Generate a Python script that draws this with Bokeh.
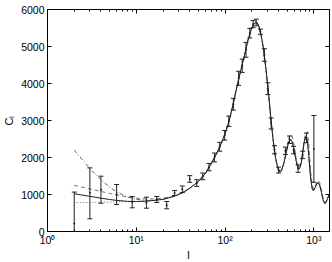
from bokeh.plotting import figure
from bokeh.models import (Range1d, LogAxis, LinearAxis, FixedTicker, LogTicker,
                          CustomJSTickFormatter, ColumnDataSource, Title)
from bokeh.embed import file_html
from bokeh.resources import INLINE

# ---- data ----
curve_l = [2, 3, 4, 5, 6, 8, 10, 13, 16, 20, 25, 30, 35, 40, 50, 60, 70, 80, 90,
           100, 110, 120, 135, 150, 165, 180, 195, 210, 220, 230, 240, 255, 270,
           290, 310, 330, 350, 370, 390, 410, 430, 460, 490, 520, 545, 570, 600,
           630, 660, 690, 720, 750, 780, 810, 840, 870, 900, 930, 960, 990, 1030,
           1080, 1120, 1170, 1220, 1270, 1320, 1370, 1420, 1500]

solid_c = [1020, 950, 900, 865, 840, 815, 810, 820, 840, 870, 930, 1000, 1080,
           1170, 1350, 1570, 1840, 2100, 2370, 2640, 2960, 3320, 3880, 4350, 4750,
           5150, 5430, 5600, 5650, 5640, 5550, 5300, 4950, 4350, 3680, 2980, 2420,
           2000, 1740, 1620, 1640, 1850, 2150, 2420, 2500, 2420, 2200, 1920, 1720,
           1700, 1850, 2150, 2430, 2560, 2480, 2150, 1700, 1350, 1150, 1100, 1180,
           1300, 1320, 1230, 1050, 850, 760, 780, 880, 1000]

dashed_c = [1250, 1150, 1080, 1030, 990, 930, 900, 880, 880, 900, 950, 1010, 1085,
            1170, 1350, 1570, 1840, 2100, 2370, 2640, 2960, 3320, 3880, 4350, 4750,
            5150, 5430, 5600, 5650, 5640, 5550, 5300, 4950, 4350, 3680, 2980, 2420,
            2000, 1720, 1600, 1620, 1850, 2200, 2520, 2640, 2580, 2330, 2000, 1760,
            1720, 1860, 2180, 2500, 2660, 2700, 2450, 1950, 1500, 1250, 1150, 1200,
            1330, 1380, 1310, 1120, 900, 790, 800, 900, 1030]

dashdot_low_l = [2, 3, 4, 5, 6, 8, 10, 13, 16, 20]
dashdot_low_c = [2200, 1700, 1400, 1200, 1070, 930, 870, 840, 845, 870]

dotted_low_l = [2, 3, 4, 5, 6, 8, 10]
dotted_low_c = [780, 785, 790, 795, 800, 805, 810]

obs_l = [2, 3, 4, 6, 9, 13, 17, 22, 27, 33, 40, 48, 56, 66, 76, 87, 99, 110, 124,
         142, 156, 172, 190, 207, 224, 250, 277, 303, 330, 360, 400, 478, 532, 591,
         664, 748, 824, 1000]
obs_c = [215, 1050, 1130, 1000, 800, 780, 865, 710, 1040, 1140, 1420, 1310, 1490,
         1740, 2000, 2290, 2600, 2980, 3440, 4140, 4480, 4910, 5360, 5600, 5650,
         5400, 4770, 3860, 2920, 2210, 1660, 2180, 2480, 2200, 1700, 2070, 2530, 2230]
obs_lo = [-700, 343, 765, 730, 640, 630, 784, 613, 973, 1050, 1330, 1220, 1400,
          1640, 1880, 2170, 2470, 2840, 3280, 3950, 4300, 4710, 5230, 5510, 5560,
          5330, 4600, 3700, 2770, 2100, 1580, 2080, 2380, 2100, 1600, 1970, 2400, 1330]
obs_hi = [1065, 1720, 1495, 1270, 946, 927, 946, 810, 1108, 1230, 1510, 1400, 1580,
          1840, 2120, 2410, 2730, 3120, 3600, 4330, 4660, 5110, 5490, 5700, 5740,
          5470, 4940, 4020, 3070, 2320, 1740, 2280, 2580, 2300, 1800, 2170, 2660, 3135]

y_ticks = [0, 1000, 2000, 3000, 4000, 5000, 6000]
x_label = "l"
y_label = "C\u2097"

# tail of the solid curve used by dash-dot and dotted models
n_dd = len(dashdot_low_l)
dashdot_l = dashdot_low_l + curve_l[n_dd:]
dashdot_c = dashdot_low_c + solid_c[n_dd:]
n_dt = len(dotted_low_l)
dotted_l = dotted_low_l + curve_l[n_dt:]
dotted_c = dotted_low_c + solid_c[n_dt:]

FONT = "Liberation Sans"

p = figure(width=332, height=262, x_axis_type="log",
           x_range=Range1d(1, 1500), y_range=Range1d(0, 6000),
           output_backend="svg", toolbar_location=None,
           min_border_left=47, min_border_right=3, min_border_top=9, min_border_bottom=31)
p.xgrid.visible = False
p.ygrid.visible = False
p.outline_line_color = "black"
p.outline_line_width = 1
p.background_fill_color = "white"
p.border_fill_color = "white"

xt = LogTicker(num_minor_ticks=10)
fmt = CustomJSTickFormatter(code="""
const sup = {0:'\u2070',1:'\u00b9',2:'\u00b2',3:'\u00b3',4:'\u2074'};
const e = Math.round(Math.log10(tick));
return '10' + (sup[e] !== undefined ? sup[e] : e);
""")

for ax in p.xaxis:
    ax.ticker = xt
    ax.formatter = fmt
    ax.major_label_standoff = 2
for ax in p.yaxis:
    ax.ticker = FixedTicker(ticks=y_ticks)
    ax.axis_label = y_label
    ax.axis_label_standoff = 3
    ax.major_label_standoff = 3

for ax in p.xaxis + p.yaxis:
    ax.major_tick_in = 4
    ax.major_tick_out = 0
    ax.minor_tick_in = 2
    ax.minor_tick_out = 0
    ax.major_label_text_font = FONT
    ax.major_label_text_font_size = "10.5px"
    ax.major_label_text_color = "black"
    ax.axis_label_text_font = FONT
    ax.axis_label_text_font_size = "11px"
    ax.axis_label_text_font_style = "normal"
    ax.axis_label_text_color = "black"
    ax.axis_line_color = "black"
    ax.major_tick_line_color = "black"
    ax.minor_tick_line_color = "black" if ax in p.xaxis else None

top = LogAxis(ticker=xt, major_label_text_font_size="1px", major_label_text_alpha=0,
              major_label_standoff=0,
              major_tick_in=4, major_tick_out=0, minor_tick_in=2, minor_tick_out=0,
              axis_line_color="black", major_tick_line_color="black",
              minor_tick_line_color="black")
right = LinearAxis(ticker=FixedTicker(ticks=y_ticks), major_label_text_font_size="1px",
                   major_label_text_alpha=0,
                   major_label_standoff=0, major_tick_in=4, major_tick_out=0,
                   minor_tick_line_color=None, axis_line_color="black",
                   major_tick_line_color="black")
p.add_layout(top, "above")
p.add_layout(right, "right")

# x-axis title below the tick labels
p.add_layout(Title(text=x_label, align="center", standoff=0, text_font=FONT,
                   text_font_size="11px", text_font_style="normal",
                   vertical_align="top", text_color="black"), "below")

# model curves
p.line(dotted_l, dotted_c, line_color="#666666", line_width=1, line_dash="1 2")
p.line(dashdot_l, dashdot_c, line_color="#666666", line_width=1, line_dash="4 2 1 2")
p.line(curve_l, dashed_c, line_color="#777777", line_width=1, line_dash="4 3")
p.line(curve_l, solid_c, line_color="#222222", line_width=1)

# observations with error bars
src = ColumnDataSource(dict(l=obs_l, c=obs_c, lo=obs_lo, hi=obs_hi))
p.segment(x0="l", y0="lo", x1="l", y1="hi", source=src, line_color="#222222", line_width=1)
p.scatter(x="l", y="lo", source=src, marker="dash", size=5, line_color="#222222", line_width=1)
p.scatter(x="l", y="hi", source=src, marker="dash", size=5, line_color="#222222", line_width=1)
p.scatter(x="l", y="c", source=src, marker="circle", size=2, fill_color="#222222", line_color=None)

open("out.html", "w").write(file_html(p, INLINE))
